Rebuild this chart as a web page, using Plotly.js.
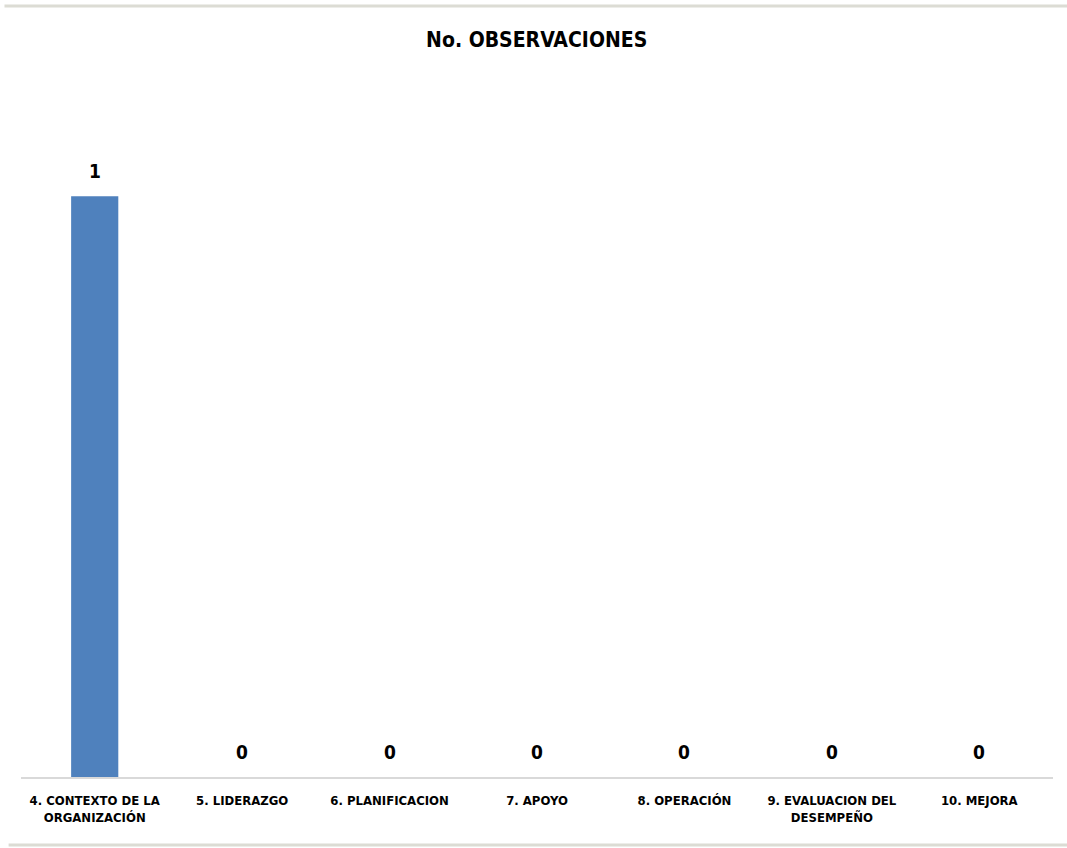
<!DOCTYPE html>
<html>
<head>
<meta charset="utf-8">
<script src="https://cdn.plot.ly/plotly-3.0.1.min.js"></script>
<style>html,body{margin:0;padding:0;background:#fff;}#chart{width:1067px;height:848px;}</style>
</head>
<body>
<div id="chart"></div>
<script>
const categories = [
  "4. CONTEXTO DE LA<br>ORGANIZACIÓN",
  "5. LIDERAZGO",
  "6. PLANIFICACION",
  "7. APOYO",
  "8. OPERACIÓN",
  "9. EVALUACION DEL<br>DESEMPEÑO",
  "10. MEJORA"
];
const observaciones = [1, 0, 0, 0, 0, 0, 0];
const chartTitle = "No. OBSERVACIONES";

const FONT = '"Liberation Sans Narrow", "Arial Narrow", "DejaVu Sans Condensed", sans-serif';

const trace = {
  type: 'bar',
  x: categories,
  y: observaciones,
  marker: {color: '#4f81bd', line: {width: 0}},
  width: 0.32,
  hoverinfo: 'skip'
};

const annotations = categories.map((c, i) => ({
  x: c, y: observaciones[i], xref: 'x', yref: 'y',
  text: '<b>' + observaciones[i] + '</b>',
  showarrow: false, yanchor: 'bottom', yshift: 12,
  font: {family: FONT, size: 19, color: '#000'}
}));

const layout = {
  width: 1067, height: 848,
  margin: {l: 21, r: 14, t: 80, b: 71},
  paper_bgcolor: '#fff', plot_bgcolor: '#fff',
  showlegend: false,
  title: {text: '<b>' + chartTitle + '</b>', x: 0.503, xanchor: 'center', y: 0.953, yanchor: 'middle',
          font: {family: FONT, size: 21, color: '#000'}},
  xaxis: {
    type: 'category',
    showline: true, linecolor: '#d9d9d9', linewidth: 2,
    showgrid: false, zeroline: false,
    ticks: '', ticklabelstandoff: 10,
    tickfont: {family: FONT, size: 13, color: '#000', weight: 'bold'}
  },
  yaxis: {
    range: [0, 1.2], visible: false, showgrid: false, zeroline: false
  },
  annotations: annotations,
  shapes: [
    {type: 'line', xref: 'paper', yref: 'paper', x0: -0.016, x1: 1.02, y0: 1.1062, y1: 1.1062,
     line: {color: '#dcdcd4', width: 3}},
    {type: 'line', xref: 'paper', yref: 'paper', x0: -0.012, x1: 1.02, y0: -0.0976, y1: -0.0976,
     line: {color: '#dcdcd4', width: 3}}
  ]
};

Plotly.newPlot('chart', [trace], layout, {displayModeBar: false, staticPlot: true});
</script>
</body>
</html>
